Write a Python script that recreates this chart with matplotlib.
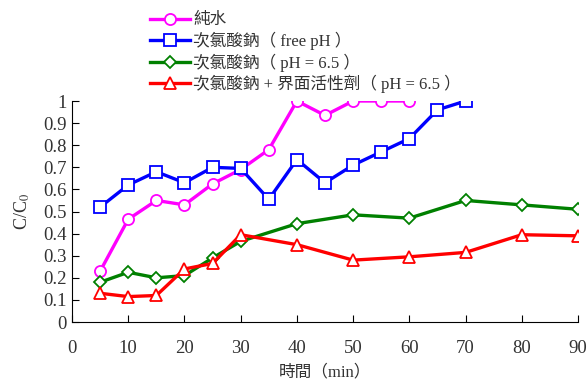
import matplotlib
matplotlib.use("Agg")
import matplotlib.pyplot as plt

plt.rcParams['font.family'] = ['Liberation Serif', 'Noto Sans CJK TC']
plt.rcParams['mathtext.fontset'] = 'stix'

# C/C0 versus time for each solution
t_water = [5, 10, 15, 20, 25, 30, 35, 40, 45, 50, 55, 60]
c_water = [0.23, 0.465, 0.55, 0.53, 0.625, 0.69, 0.78, 1.0, 0.935, 1.0, 1.0, 1.0]

t_free = [5, 10, 15, 20, 25, 30, 35, 40, 45, 50, 55, 60, 65, 70]
c_free = [0.52, 0.62, 0.68, 0.63, 0.70, 0.695, 0.555, 0.735, 0.63, 0.71, 0.77, 0.83, 0.96, 1.0]

t_ph = [5, 10, 15, 20, 25, 30, 40, 50, 60, 70, 80, 90]
c_ph = [0.18, 0.225, 0.20, 0.21, 0.29, 0.365, 0.445, 0.485, 0.47, 0.55, 0.53, 0.51]

t_surf = [5, 10, 15, 20, 25, 30, 40, 50, 60, 70, 80, 90]
c_surf = [0.13, 0.115, 0.12, 0.24, 0.265, 0.395, 0.35, 0.28, 0.295, 0.315, 0.395, 0.39]

labels = ["純水", "次氯酸鈉（ free pH ）", "次氯酸鈉（ pH = 6.5 ）",
          "次氯酸鈉 + 界面活性劑（ pH = 6.5 ）"]

fig = plt.figure(figsize=(5.87, 3.80), dpi=100)
ax = fig.add_axes([0.1227, 0.1526, 0.862, 0.5816])

series = [
    (t_water, c_water, "#ff00ff", "o", 8),
    (t_free, c_free, "#0000ff", "s", 8),
    (t_ph, c_ph, "#008000", "D", 6),
    (t_surf, c_surf, "#ff0000", "^", 8.5),
]
handles = []
for (t, c, color, marker, ms), label in zip(series, labels):
    h, = ax.plot(t, c, color=color, lw=2.4, marker=marker, ms=ms,
                 mfc="white", mec=color, mew=1.3, label=label)
    handles.append(h)

ax.set_xlim(0, 90)
ax.set_ylim(0, 1)
ax.set_xticks(range(0, 91, 10))
ax.set_yticks([i / 10 for i in range(11)])
ax.set_yticklabels(["%g" % (i / 10) for i in range(11)])
ax.spines['top'].set_visible(False)
ax.spines['right'].set_visible(False)
ax.tick_params(axis='x', direction='in', length=5, pad=13, labelsize=13.5)
ax.tick_params(axis='y', direction='in', length=5, pad=4, labelsize=13.5)
ax.tick_params(colors='black', labelcolor='#333333')

ax.set_xlabel("時間（min）", fontsize=12, labelpad=5, color='#333333')
ax.set_ylabel("C/C$_0$", fontsize=13, labelpad=8, color='#333333')

fig.legend(handles=handles, loc='upper left', bbox_to_anchor=(0.245, 0.985),
           frameon=False, fontsize=12, handlelength=2.4, handletextpad=0.15,
           labelspacing=0.2, borderaxespad=0, labelcolor='#333333')

fig.savefig("out.png", dpi=100)
